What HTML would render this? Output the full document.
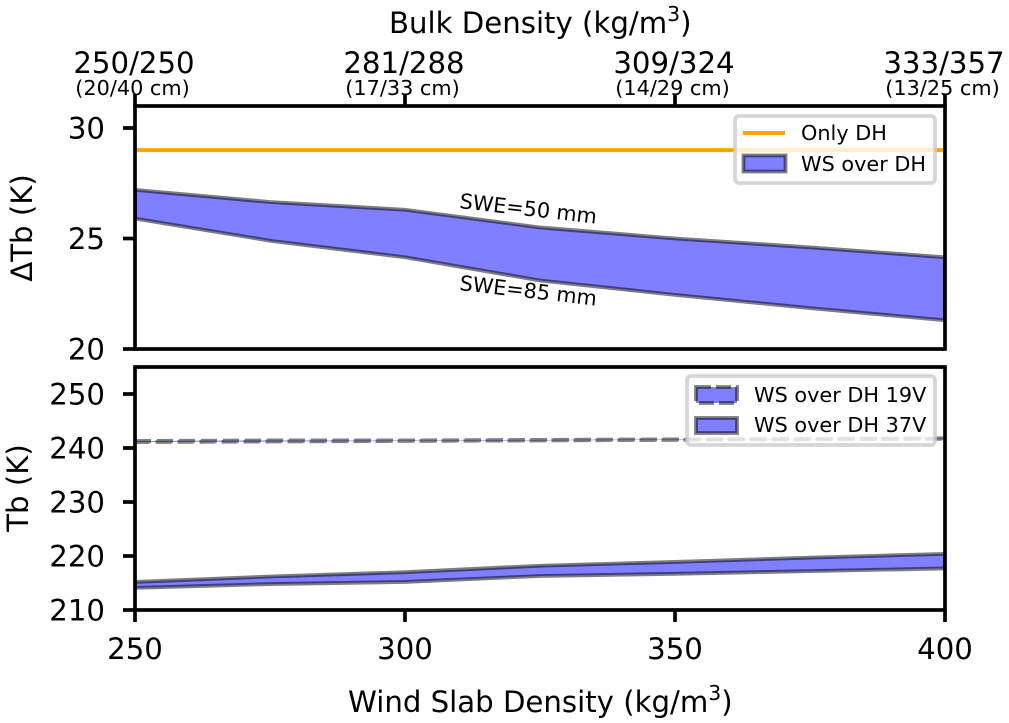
<!DOCTYPE html>
<html>
<head>
<meta charset="utf-8">
<title>Tb chart</title>
<style>
html,body{margin:0;padding:0;background:#fff;}
svg{display:block;font-family:"DejaVu Sans","Liberation Sans",sans-serif;fill:#000;}
</style>
</head>
<body>
<svg id="chart" xmlns="http://www.w3.org/2000/svg" width="1009" height="723" viewBox="0 0 1009 723">
<defs>
<clipPath id="clip-top"><rect x="135" y="106" width="810" height="243"/></clipPath>
<clipPath id="clip-bottom"><rect x="135" y="367" width="810" height="243"/></clipPath>
</defs>
<g id="marks-top" clip-path="url(#clip-top)"></g>
<g id="marks-bottom" clip-path="url(#clip-bottom)"></g>
<text transform="translate(459,208) rotate(6.5)" font-size="20.8">SWE=50 mm</text>
<text transform="translate(459,290) rotate(6.5)" font-size="20.8">SWE=85 mm</text>
<g id="axes"></g>
<g>
<rect x="735" y="116" width="200" height="67" rx="4" fill="#fff" fill-opacity="0.8" stroke="#ccc" stroke-opacity="0.8" stroke-width="3.8"/>
<line x1="743" x2="785" y1="133" y2="133" stroke="#ffa500" stroke-width="4"/>
<rect x="743.5" y="155.5" width="42" height="16" fill="#0000ff" fill-opacity="0.5" stroke="#000" stroke-opacity="0.5" stroke-width="3.8"/>
<text x="801" y="140" font-size="20.8">Only DH</text>
<text x="801" y="171" font-size="20.8">WS over DH</text>
</g>
<g>
<rect x="687" y="376" width="248" height="69" rx="4" fill="#fff" fill-opacity="0.8" stroke="#ccc" stroke-opacity="0.8" stroke-width="3.8"/>
<rect x="696" y="387" width="41" height="16" fill="#0000ff" fill-opacity="0.5" stroke="#000" stroke-opacity="0.5" stroke-width="3.8" stroke-dasharray="15 5"/>
<rect x="696" y="418" width="41" height="15" fill="#0000ff" fill-opacity="0.5" stroke="#000" stroke-opacity="0.5" stroke-width="3.8"/>
<text x="754" y="402" font-size="20.8">WS over DH 19V</text>
<text x="754" y="432" font-size="20.8">WS over DH 37V</text>
</g>
<text x="389" y="33" font-size="29.2">Bulk Density (kg/m<tspan font-size="20.4" dy="-12">3</tspan><tspan dy="12">)</tspan></text>
<text x="348" y="712" font-size="29.2">Wind Slab Density (kg/m<tspan font-size="20.4" dy="-12">3</tspan><tspan dy="12">)</tspan></text>
<text transform="translate(32,228) rotate(-90)" text-anchor="middle" font-size="29.2">ΔTb (K)</text>
<text transform="translate(28,488) rotate(-90)" text-anchor="middle" font-size="29.2">Tb (K)</text>
</svg>
<script>
const densities = [250, 275, 300, 325, 350, 375, 400];
const onlyDH = [29, 29, 29, 29, 29, 29, 29];
const swe50 = [27.2, 26.65, 26.3, 25.5, 25.0, 24.6, 24.15];
const swe85 = [25.9, 24.9, 24.15, 23.1, 22.45, 21.85, 21.3];
const tb19Upper = [241.3, 241.4, 241.4, 241.5, 241.6, 241.7, 241.8];
const tb19Lower = [241.1, 241.2, 241.3, 241.4, 241.5, 241.6, 241.7];
const tb37Upper = [215.2, 216.2, 217.0, 218.2, 218.9, 219.7, 220.4];
const tb37Lower = [214.1, 214.8, 215.2, 216.3, 216.7, 217.2, 217.7];
const xTicks = [250, 300, 350, 400];
const topYTicks = [20, 25, 30];
const bottomYTicks = [210, 220, 230, 240, 250];
const bulkLabels = ['250/250', '281/288', '309/324', '333/357'];
const depthLabels = ['(20/40 cm)', '(17/33 cm)', '(14/29 cm)', '(13/25 cm)'];

const NS = 'http://www.w3.org/2000/svg';
function xScale(v) { return 135 + (v - 250) * 810 / 150; }
function yTop(v) { return 349 - (v - 20) * 22.1; }
function yBottom(v) { return 610 - (v - 210) * 5.4; }
function make(parent, tag, attrs, text) {
  const el = document.createElementNS(NS, tag);
  for (const k in attrs) el.setAttribute(k, attrs[k]);
  if (text !== undefined) el.textContent = text;
  parent.appendChild(el);
  return el;
}
function bandPath(upper, lower, yScale) {
  let d = '';
  densities.forEach(function (x, i) { d += (i ? 'L' : 'M') + xScale(x) + ' ' + yScale(upper[i]); });
  for (let i = densities.length - 1; i >= 0; i--) d += 'L' + xScale(densities[i]) + ' ' + yScale(lower[i]);
  return d + 'Z';
}
function linePath(values, yScale) {
  return values.map(function (v, i) { return (i ? 'L' : 'M') + xScale(densities[i]) + ' ' + yScale(v); }).join('');
}
function band(parent, upper, lower, yScale, dash) {
  const attrs = { d: bandPath(upper, lower, yScale), fill: '#0000ff', 'fill-opacity': 0.5, stroke: '#000', 'stroke-opacity': 0.5, 'stroke-width': 3.8 };
  const shape = make(parent, 'path', attrs);
  if (dash) shape.setAttribute('stroke-dasharray', dash);
  
  
}
const marksTop = document.getElementById('marks-top');
const marksBottom = document.getElementById('marks-bottom');
const axesGroup = document.getElementById('axes');

const onlyLine = make(marksTop, 'path', { d: linePath(onlyDH, yTop), fill: 'none', stroke: '#ffa500', 'stroke-width': 4 });


band(marksTop, swe50, swe85, yTop);
band(marksBottom, tb19Upper, tb19Lower, yBottom, '16 6');
band(marksBottom, tb37Upper, tb37Lower, yBottom);

function tick(x1, y1, x2, y2) {
  const t = make(axesGroup, 'line', { x1: x1, y1: y1, x2: x2, y2: y2, stroke: '#000', 'stroke-width': 3.7 });
  
  
}
function frame(y, h) {
  const f = make(axesGroup, 'rect', { x: 135, y: y, width: 810, height: h, fill: 'none', stroke: '#000', 'stroke-width': 3.7 });
  
  
}
frame(106, 243);
frame(367, 243);
xTicks.forEach(function (v, i) {
  const x = xScale(v);
  tick(x, 106, x, 94);
  tick(x, 610, x, 622);
  const b = make(axesGroup, 'text', { x: x - 1, y: 73, 'text-anchor': 'middle', 'font-size': 29.2 }, bulkLabels[i]);
  
  
  const d = make(axesGroup, 'text', { x: x - 2.5, y: 95, 'text-anchor': 'middle', 'font-size': 20.8 }, depthLabels[i]);
  
  
  const l = make(axesGroup, 'text', { x: x, y: 659, 'text-anchor': 'middle', 'font-size': 29.2 }, String(v));
  
  
});
topYTicks.forEach(function (v) {
  const y = yTop(v);
  tick(135, y, 123, y);
  const l = make(axesGroup, 'text', { x: 105, y: y + 10.5, 'text-anchor': 'end', 'font-size': 29.2 }, String(v));
  
  
});
bottomYTicks.forEach(function (v) {
  const y = yBottom(v);
  tick(135, y, 123, y);
  const l = make(axesGroup, 'text', { x: 105, y: y + 10.5, 'text-anchor': 'end', 'font-size': 29.2 }, String(v));
  
  
});
</script>
</body>
</html>
